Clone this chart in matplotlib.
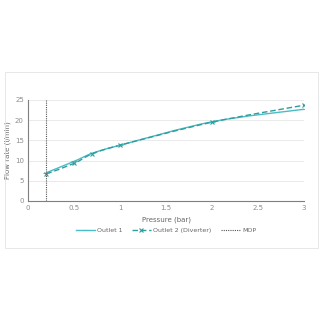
import matplotlib.pyplot as plt
from matplotlib.patches import Rectangle, PathPatch
from matplotlib.path import Path

# data
pressure = [0.2, 0.5, 0.7, 1.0, 2.0, 3.0]
outlet1 = [7.0, 9.8, 11.8, 13.8, 19.6, 22.7]
outlet2 = [6.7, 9.3, 11.7, 13.8, 19.5, 23.7]
mop = 0.2

c1 = '#4bbcc6'
c2 = '#2e9e9c'
grey = '#8c8c8c'


def smooth_path(xs, ys):
    # Excel-style smoothed line: Catmull-Rom segments as cubic Beziers
    verts = [(xs[0], ys[0])]
    codes = [Path.MOVETO]
    n = len(xs)
    for i in range(n - 1):
        x0, y0 = (xs[i - 1], ys[i - 1]) if i > 0 else (xs[i], ys[i])
        x1, y1 = xs[i], ys[i]
        x2, y2 = xs[i + 1], ys[i + 1]
        x3, y3 = (xs[i + 2], ys[i + 2]) if i + 2 < n else (x2, y2)
        verts += [(x1 + (x2 - x0) / 6, y1 + (y2 - y0) / 6),
                  (x2 - (x3 - x1) / 6, y2 - (y3 - y1) / 6),
                  (x2, y2)]
        codes += [Path.CURVE4] * 3
    return Path(verts, codes)


fig = plt.figure(figsize=(3.2, 3.2), dpi=100)
fig.patches.append(Rectangle((0.016, 0.225), 0.977, 0.55, transform=fig.transFigure,
                             fill=False, edgecolor='#e3e3e3', lw=0.6))
ax = fig.add_axes([0.0875, 0.372, 0.8625, 0.3156])

ax.add_patch(PathPatch(smooth_path(pressure, outlet1), fill=False, edgecolor=c1, lw=1.0))
ax.add_patch(PathPatch(smooth_path(pressure, outlet2), fill=False, edgecolor=c2, lw=1.0,
                       ls=(0, (4, 2))))
ax.plot(pressure, outlet1, color=c1, lw=1.0, ls='none', marker='_', ms=4, mew=0.8)
ax.plot(pressure, outlet2, color=c2, lw=1.0, ls='none', marker='x', ms=3, mew=0.8)
# legend handles
ax.plot([], [], color=c1, lw=1.0, marker='_', ms=4, mew=0.8, label='Outlet 1')
ax.plot([], [], color=c2, lw=1.0, ls=(0, (4, 2)), marker='x', ms=3, mew=0.8,
        label='Outlet 2 (Diverter)')
ax.axvline(mop, color='#555555', lw=0.8, ls=(0, (1, 1)), label='MOP')

ax.set_xlim(0, 3)
ax.set_ylim(0, 25)
ax.set_xticks([0, 0.5, 1, 1.5, 2, 2.5, 3])
ax.set_xticklabels(['0', '0.5', '1', '1.5', '2', '2.5', '3'])
ax.set_yticks([0, 5, 10, 15, 20, 25])
ax.grid(axis='y', color='#e6e6e6', lw=0.6)
ax.set_axisbelow(True)
for s in ['top', 'right']:
    ax.spines[s].set_visible(False)
for s in ['left', 'bottom']:
    ax.spines[s].set_color('#7f7f7f')
    ax.spines[s].set_linewidth(0.8)
ax.tick_params(length=0, labelsize=5, colors=grey, pad=3)
ax.set_xlabel('Pressure (bar)', fontsize=5, color='#666666', labelpad=4)
ax.set_ylabel('Flow rate (l/min)', fontsize=5, color='#666666', labelpad=3)

leg = ax.legend(loc='upper center', bbox_to_anchor=(0.5, -0.21), ncol=3, frameon=False,
                fontsize=4.5, handlelength=3, columnspacing=1.5, handletextpad=0.4)
for t in leg.get_texts():
    t.set_color('#666666')

fig.savefig('out.png', dpi=100)
